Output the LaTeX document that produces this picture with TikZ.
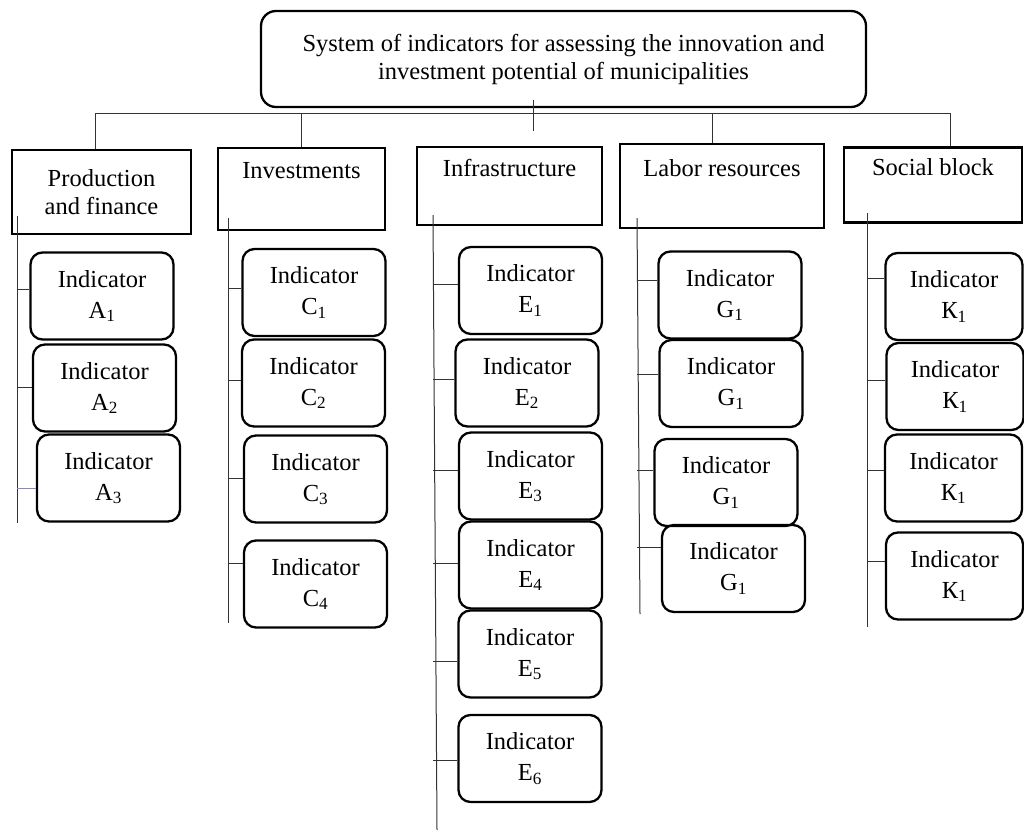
\documentclass[tikz,border=0pt]{standalone}
\usepackage{fontspec}
\setmainfont{Liberation Serif}
\usepackage{tikz}

\begin{document}
\begin{tikzpicture}[x=1pt, y=-1pt,
    txt/.style={font=\fontsize{24.5}{28}\selectfont, align=center, inner sep=0pt},
    head/.style={txt, draw, line width=2.3pt, rounded corners=15pt},
    cat/.style={txt, draw, line width=2.3pt},
    ind/.style={txt, draw, line width=2.3pt, rounded corners=12pt,
        minimum width=143pt, minimum height=87pt, font=\fontsize{24.5}{31}\selectfont},
    link/.style={black!80, line width=1pt}]
    \useasboundingbox (0,0) rectangle (1024,830);

    % Head
    \node[head, minimum width=605pt, minimum height=96pt] (system) at (563.5,59)
        {System of indicators for assessing the innovation and\\investment potential of municipalities};

    % Blocks
    \node[cat, minimum width=179pt, minimum height=84pt] (prod) at (101.5,192) {Production\\and finance};
    \node[cat, minimum width=167pt, minimum height=82pt] (inv) at (301.5,189) {Investments\\\strut};
    \node[cat, minimum width=185pt, minimum height=78pt] (infra) at (509.5,186) {Infrastructure\\\strut};
    \node[cat, minimum width=204pt, minimum height=84pt] (labor) at (722,186) {Labor resources\\\strut};
    \node[cat, minimum width=178pt, minimum height=75pt] (social) at (933,185) {Social block\\\strut};

    % Indicators
    \node[ind] (a1) at (102,296) {Indicator\\A\textsubscript{1}};
    \node[ind] (a2) at (104.5,388) {Indicator\\A\textsubscript{2}};
    \node[ind] (a3) at (108.5,478) {Indicator\\A\textsubscript{3}};

    \node[ind] (c1) at (314,292.5) {Indicator\\C\textsubscript{1}};
    \node[ind] (c2) at (313.5,383) {Indicator\\C\textsubscript{2}};
    \node[ind] (c3) at (315.5,479) {Indicator\\C\textsubscript{3}};
    \node[ind] (c4) at (315.5,584) {Indicator\\C\textsubscript{4}};

    \node[ind] (e1) at (530.5,290.5) {Indicator\\E\textsubscript{1}};
    \node[ind] (e2) at (527,383) {Indicator\\E\textsubscript{2}};
    \node[ind] (e3) at (530.5,476) {Indicator\\E\textsubscript{3}};
    \node[ind] (e4) at (530.5,565) {Indicator\\E\textsubscript{4}};
    \node[ind] (e5) at (530,654) {Indicator\\E\textsubscript{5}};
    \node[ind] (e6) at (530,758.5) {Indicator\\E\textsubscript{6}};

    \node[ind] (g1) at (730,295) {Indicator\\G\textsubscript{1}};
    \node[ind] (g2) at (731,383.5) {Indicator\\G\textsubscript{1}};
    \node[ind] (g3) at (726,482.5) {Indicator\\G\textsubscript{1}};
    \node[ind] (g4) at (733.5,568.5) {Indicator\\G\textsubscript{1}};

    \node[ind, minimum width=137pt] (k1) at (954,296.5) {Indicator\\К\textsubscript{1}};
    \node[ind, minimum width=137pt] (k2) at (955,386.5) {Indicator\\К\textsubscript{1}};
    \node[ind, minimum width=137pt] (k3) at (953.5,478) {Indicator\\К\textsubscript{1}};
    \node[ind, minimum width=137pt] (k4) at (954.5,576) {Indicator\\К\textsubscript{1}};

    % Bus
    \coordinate (hub) at (533,113);
    \coordinate (busL) at (95,113);
    \coordinate (busR) at (950,113);
    \draw[link] ([yshift=8pt]hub |- system.south) -- ([yshift=-18pt]hub);
    \draw[link] (busL) -- (busR);
    \draw[link] (busL) -- (busL |- prod.north);
    \draw[link] (inv.north |- hub) -- (inv.north);
    \draw[link] ([xshift=-10pt]labor.north |- hub) -- ([xshift=-10pt]labor.north);
    \draw[link] (busR) -- (busR |- social.north);

    % Spines
    \coordinate (prodtop) at (17,216);     \coordinate (prodend) at (17,523);
    \coordinate (invtop) at (228,218);     \coordinate (invend) at (228,623);
    \coordinate (infratop) at (433,215);   \coordinate (infraend) at (437,830);
    \coordinate (labortop) at (637,218);   \coordinate (laborend) at (640,614);
    \coordinate (socialtop) at (867,213);  \coordinate (socialend) at (867,627);
    \foreach \s in {prod, inv, infra, labor, social}
        \draw[link] (\s top) -- (\s end);

    % Ticks
    \foreach \n/\s/\d in {a1/prod/7, a2/prod/1,
            c1/inv/4.5, c2/inv/3, c3/inv/1, c4/inv/21,
            e1/infra/6.5, e2/infra/4, e3/infra/6, e4/infra/2, e5/infra/-7, e6/infra/-1.5,
            g1/labor/15, g2/labor/9.5, g3/labor/12.5, g4/labor/21.5,
            k1/social/18.5, k2/social/6.5, k3/social/8, k4/social/15}
        \draw[link] ([yshift=\d pt]\n.west -| \s top) -- ([yshift=\d pt]\n.west);
    \draw[link, color=blue!35!gray!70] ([yshift=-10pt]a3.west -| prodtop) -- ([yshift=-10pt]a3.west);

\end{tikzpicture}
\end{document}
